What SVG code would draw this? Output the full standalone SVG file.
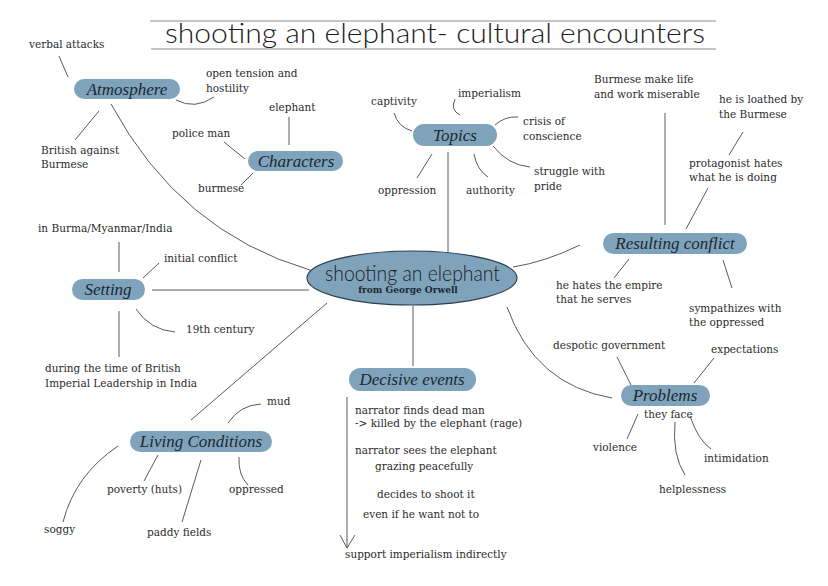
<svg xmlns="http://www.w3.org/2000/svg" width="828" height="586" viewBox="0 0 828 586">
<style>
.pill{fill:#7fa3bb;}
.lbl{font-family:"Liberation Serif","DejaVu Serif",serif;font-style:italic;font-size:17px;fill:#1c2833;text-anchor:middle;}
.t{font-family:"DejaVu Serif","Liberation Serif",serif;font-size:10.5px;fill:#2b2b2b;}
.c{fill:none;stroke:#5a5a5a;stroke-width:1;}
.thin{font-family:Lato,"Open Sans",sans-serif;font-weight:300;fill:#1c1c1c;}
</style>
<rect width="828" height="586" fill="#ffffff"/>

<g id="title">
<line x1="150" y1="21" x2="716" y2="21" stroke="#8a8a8a" stroke-width="1"/>
<line x1="151" y1="49" x2="716" y2="49" stroke="#8a8a8a" stroke-width="1"/>
<text class="thin" x="165" y="43" font-size="28" textLength="540" lengthAdjust="spacingAndGlyphs">shooting an elephant- cultural encounters</text>
</g>

<g id="connectors">
<!-- main branches -->
<path class="c" d="M111,104 Q180,232 310,270"/>
<line class="c" x1="152" y1="290" x2="309" y2="290"/>
<line class="c" x1="327" y1="303" x2="191" y2="420"/>
<line class="c" x1="413" y1="306" x2="413" y2="366"/>
<line class="c" x1="448" y1="152" x2="448" y2="252"/>
<path class="c" d="M513,267 Q545,262 580,245"/>
<path class="c" d="M507,307 Q535,385 612,398"/>
<!-- atmosphere -->
<line class="c" x1="59" y1="56" x2="68" y2="77"/>
<path class="c" d="M176,100 Q195,110 214,97"/>
<line class="c" x1="99" y1="111" x2="75" y2="140"/>
<!-- characters -->
<line class="c" x1="289" y1="117" x2="289" y2="145"/>
<line class="c" x1="224" y1="142" x2="245" y2="159"/>
<line class="c" x1="241" y1="185" x2="253" y2="173"/>
<!-- topics -->
<path class="c" d="M394,113 Q398,127 412,131"/>
<path class="c" d="M455,99 Q450,110 460,115"/>
<path class="c" d="M495,125 Q505,116 518,117"/>
<path class="c" d="M493,146 Q508,165 530,167"/>
<line class="c" x1="432" y1="154" x2="417" y2="178"/>
<path class="c" d="M474,154 Q477,170 488,177"/>
<!-- resulting conflict -->
<line class="c" x1="665" y1="113" x2="665" y2="225"/>
<line class="c" x1="743" y1="132" x2="729" y2="155"/>
<line class="c" x1="708" y1="188" x2="686" y2="229"/>
<line class="c" x1="629" y1="259" x2="614" y2="278"/>
<line class="c" x1="723" y1="260" x2="732" y2="288"/>
<!-- setting -->
<line class="c" x1="119" y1="242" x2="119" y2="272"/>
<line class="c" x1="143" y1="278" x2="159" y2="263"/>
<path class="c" d="M136,309 Q150,330 175,332"/>
<line class="c" x1="119" y1="311" x2="119" y2="357"/>
<!-- decisive events -->
<line class="c" x1="347" y1="397" x2="347" y2="548"/>
<polyline class="c" points="340,535 347,548 355,535"/>
<!-- living conditions -->
<path class="c" d="M228,423 Q240,405 261,404"/>
<line class="c" x1="158" y1="455" x2="144" y2="481"/>
<path class="c" d="M239,457 Q238,475 248,485"/>
<line class="c" x1="201" y1="460" x2="182" y2="522"/>
<path class="c" d="M118,446 Q75,475 63,522"/>
<!-- problems -->
<line class="c" x1="617" y1="357" x2="631" y2="385"/>
<line class="c" x1="714" y1="358" x2="694" y2="383"/>
<line class="c" x1="638" y1="414" x2="627" y2="439"/>
<path class="c" d="M690,416 Q698,440 711,449"/>
<path class="c" d="M675,422 Q672,455 685,475"/>
</g>

<g id="center">
<ellipse cx="412" cy="278" rx="105" ry="27" fill="#7fa3bb" stroke="#2e3f4f" stroke-width="1.2"/>
<text class="thin" x="325" y="281" font-size="21" textLength="175" lengthAdjust="spacingAndGlyphs">shooting an elephant</text>
<text x="408" y="293" font-family="'DejaVu Serif','Liberation Serif',serif" font-size="9" font-weight="bold" fill="#1c2833" text-anchor="middle">from George Orwell</text>
</g>

<g id="atmosphere">
<rect class="pill" x="74" y="79" width="106" height="20" rx="10"/>
<text class="lbl" x="127" y="95">Atmosphere</text>
<text class="t" x="29" y="48">verbal attacks</text>
<text class="t" x="206" y="77">open tension and</text>
<text class="t" x="206" y="92">hostility</text>
<text class="t" x="41" y="154">British against</text>
<text class="t" x="41" y="168">Burmese</text>
</g>

<g id="characters">
<rect class="pill" x="248" y="151" width="95" height="20" rx="10"/>
<text class="lbl" x="296" y="167">Characters</text>
<text class="t" x="269" y="111">elephant</text>
<text class="t" x="172" y="137">police man</text>
<text class="t" x="198" y="192">burmese</text>
</g>

<g id="topics">
<rect class="pill" x="413" y="124" width="84" height="22" rx="11"/>
<text class="lbl" x="455" y="141">Topics</text>
<text class="t" x="371" y="105">captivity</text>
<text class="t" x="458" y="97">imperialism</text>
<text class="t" x="523" y="125">crisis of</text>
<text class="t" x="523" y="140">conscience</text>
<text class="t" x="534" y="175">struggle with</text>
<text class="t" x="534" y="190">pride</text>
<text class="t" x="378" y="194">oppression</text>
<text class="t" x="466" y="194">authority</text>
</g>

<g id="resulting-conflict">
<rect class="pill" x="603" y="233" width="144" height="21" rx="10.5"/>
<text class="lbl" x="675" y="249">Resulting conflict</text>
<text class="t" x="594" y="83">Burmese make life</text>
<text class="t" x="594" y="98">and work miserable</text>
<text class="t" x="719" y="103">he is loathed by</text>
<text class="t" x="719" y="118">the Burmese</text>
<text class="t" x="689" y="167">protagonist hates</text>
<text class="t" x="689" y="181">what he is doing</text>
<text class="t" x="556" y="289">he hates the empire</text>
<text class="t" x="556" y="303">that he serves</text>
<text class="t" x="689" y="312">sympathizes with</text>
<text class="t" x="689" y="326">the oppressed</text>
</g>

<g id="setting">
<rect class="pill" x="72" y="279" width="73" height="21" rx="10.5"/>
<text class="lbl" x="108" y="295">Setting</text>
<text class="t" x="38" y="232">in Burma/Myanmar/India</text>
<text class="t" x="164" y="262">initial conflict</text>
<text class="t" x="186" y="333">19th century</text>
<text class="t" x="45" y="372">during the time of British</text>
<text class="t" x="45" y="387">Imperial Leadership in India</text>
</g>

<g id="decisive-events">
<rect class="pill" x="349" y="368" width="127" height="23" rx="11.5"/>
<text class="lbl" x="412" y="385">Decisive events</text>
<text class="t" x="355" y="414">narrator finds dead man</text>
<text class="t" x="355" y="427">-&gt; killed by the elephant (rage)</text>
<text class="t" x="355" y="454">narrator sees the elephant</text>
<text class="t" x="375" y="470">grazing peacefully</text>
<text class="t" x="377" y="498">decides to shoot it</text>
<text class="t" x="363" y="518">even if he want not to</text>
<text class="t" x="345" y="558">support imperialism indirectly</text>
</g>

<g id="living-conditions">
<rect class="pill" x="130" y="431" width="142" height="21" rx="10.5"/>
<text class="lbl" x="201" y="447">Living Conditions</text>
<text class="t" x="267" y="405">mud</text>
<text class="t" x="107" y="493">poverty (huts)</text>
<text class="t" x="229" y="493">oppressed</text>
<text class="t" x="147" y="536">paddy fields</text>
<text class="t" x="44" y="533">soggy</text>
</g>

<g id="problems">
<rect class="pill" x="621" y="385" width="89" height="21" rx="10.5"/>
<text class="lbl" x="665" y="401">Problems</text>
<text class="t" x="644" y="418" fill="#4d5966">they face</text>
<text class="t" x="553" y="349">despotic government</text>
<text class="t" x="711" y="353">expectations</text>
<text class="t" x="593" y="451">violence</text>
<text class="t" x="704" y="462">intimidation</text>
<text class="t" x="659" y="493">helplessness</text>
</g>
</svg>
